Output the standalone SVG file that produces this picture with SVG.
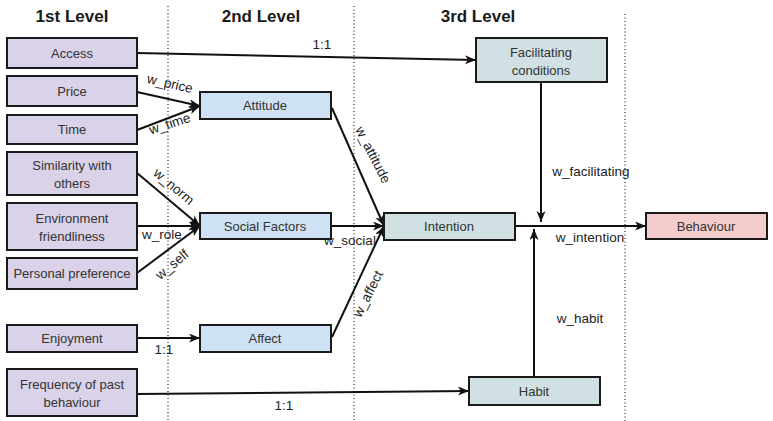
<svg xmlns="http://www.w3.org/2000/svg" width="773" height="421" viewBox="0 0 773 421">
  <style>
    .box { stroke: #1a1a1a; stroke-width: 2; }
    .l1 { fill: #d9d2e9; }
    .l2 { fill: #cfe2f3; }
    .l3 { fill: #d0e0e3; }
    .out { fill: #f4cccc; }
    .lbl { font-family: "Liberation Sans", Arial, sans-serif; font-size: 13px; fill: #333; text-anchor: middle; }
    .hdr { font-family: "Liberation Sans", Arial, sans-serif; font-size: 17px; font-weight: bold; fill: #1a1a1a; text-anchor: middle; }
    .w { font-family: "Liberation Sans", Arial, sans-serif; font-size: 13.5px; fill: #222; text-anchor: middle; }
    .conn { stroke: #111; stroke-width: 2; fill: none; }
    .sep { stroke: #555; stroke-width: 1.5; stroke-dasharray: 1 2.5; }
  </style>
  <defs>
    <marker id="arrow" markerWidth="12" markerHeight="10" refX="11" refY="4.5" orient="auto" markerUnits="userSpaceOnUse">
      <path d="M0,0 L11,4.5 L0,9 L3,4.5 z" fill="#111"/>
    </marker>
  </defs>
  <rect width="773" height="421" fill="#ffffff"/>

  <!-- level separators -->
  <g id="separators">
    <line class="sep" x1="168" y1="6" x2="168" y2="421"/>
    <line class="sep" x1="354" y1="6" x2="354" y2="421"/>
    <line class="sep" x1="625" y1="14" x2="625" y2="421"/>
  </g>

  <!-- headers -->
  <g id="headers">
    <text class="hdr" x="72" y="22">1st Level</text>
    <text class="hdr" x="261" y="22">2nd Level</text>
    <text class="hdr" x="478" y="22">3rd Level</text>
  </g>

  <!-- connectors -->
  <g id="connectors">
    <line class="conn" x1="137" y1="53" x2="476" y2="60" marker-end="url(#arrow)"/>
    <line class="conn" x1="137" y1="92" x2="200" y2="106" marker-end="url(#arrow)"/>
    <line class="conn" x1="137" y1="130" x2="200" y2="106" marker-end="url(#arrow)"/>
    <line class="conn" x1="137" y1="173" x2="200" y2="226" marker-end="url(#arrow)"/>
    <line class="conn" x1="137" y1="226" x2="200" y2="226" marker-end="url(#arrow)"/>
    <line class="conn" x1="137" y1="273" x2="200" y2="226" marker-end="url(#arrow)"/>
    <line class="conn" x1="137" y1="338" x2="200" y2="338" marker-end="url(#arrow)"/>
    <line class="conn" x1="332" y1="108" x2="384" y2="226" marker-end="url(#arrow)"/>
    <line class="conn" x1="331" y1="226" x2="384" y2="226" marker-end="url(#arrow)"/>
    <line class="conn" x1="332" y1="337" x2="384" y2="226" marker-end="url(#arrow)"/>
    <line class="conn" x1="137" y1="394" x2="469" y2="391" marker-end="url(#arrow)"/>
    <line class="conn" x1="515" y1="226" x2="646" y2="226" marker-end="url(#arrow)"/>
    <line class="conn" x1="541" y1="82" x2="541" y2="222" marker-end="url(#arrow)"/>
    <line class="conn" x1="534" y1="377" x2="534" y2="229" marker-end="url(#arrow)"/>

    <text class="w" x="322" y="49">1:1</text>
    <text class="w" transform="translate(169,88) rotate(13)">w_price</text>
    <text class="w" transform="translate(171,128) rotate(-18)">w_time</text>
    <text class="w" transform="translate(171,190) rotate(40)">w_norm</text>
    <text class="w" x="162" y="239">w_role</text>
    <text class="w" transform="translate(175,268) rotate(-40)">w_self</text>
    <text class="w" x="164" y="354">1:1</text>
    <text class="w" transform="translate(369,157) rotate(63)">w_attitude</text>
    <text class="w" x="350" y="245">w_social</text>
    <text class="w" transform="translate(372,296) rotate(-63)">w_affect</text>
    <text class="w" x="284" y="410">1:1</text>
    <text class="w" x="591" y="176">w_facilitating</text>
    <text class="w" x="590" y="242">w_intention</text>
    <text class="w" x="580" y="323">w_habit</text>
  </g>

  <!-- 1st level -->
  <g id="access">
    <rect class="box l1" x="7" y="38" width="130" height="30"/>
    <text class="lbl" x="72" y="58">Access</text>
  </g>
  <g id="price">
    <rect class="box l1" x="7" y="76" width="130" height="30"/>
    <text class="lbl" x="72" y="96">Price</text>
  </g>
  <g id="time">
    <rect class="box l1" x="7" y="115" width="130" height="29"/>
    <text class="lbl" x="72" y="134">Time</text>
  </g>
  <g id="similarity">
    <rect class="box l1" x="7" y="152" width="130" height="43"/>
    <text class="lbl" x="72" y="170">Similarity with</text>
    <text class="lbl" x="72" y="188">others</text>
  </g>
  <g id="environment">
    <rect class="box l1" x="7" y="203" width="130" height="47"/>
    <text class="lbl" x="72" y="223">Environment</text>
    <text class="lbl" x="72" y="241">friendliness</text>
  </g>
  <g id="personal">
    <rect class="box l1" x="7" y="258" width="130" height="31"/>
    <text class="lbl" x="72" y="278">Personal preference</text>
  </g>
  <g id="enjoyment">
    <rect class="box l1" x="7" y="325" width="130" height="27"/>
    <text class="lbl" x="72" y="343">Enjoyment</text>
  </g>
  <g id="frequency">
    <rect class="box l1" x="7" y="369" width="130" height="47"/>
    <text class="lbl" x="72" y="389">Frequency of past</text>
    <text class="lbl" x="72" y="407">behaviour</text>
  </g>

  <!-- 2nd level -->
  <g id="attitude">
    <rect class="box l2" x="200" y="92" width="131" height="27"/>
    <text class="lbl" x="265" y="110">Attitude</text>
  </g>
  <g id="social">
    <rect class="box l2" x="200" y="213" width="131" height="26"/>
    <text class="lbl" x="265" y="231">Social Factors</text>
  </g>
  <g id="affect">
    <rect class="box l2" x="200" y="325" width="131" height="27"/>
    <text class="lbl" x="265" y="343">Affect</text>
  </g>

  <!-- 3rd level -->
  <g id="facilitating">
    <rect class="box l3" x="476" y="38" width="131" height="44"/>
    <text class="lbl" x="541" y="57">Facilitating</text>
    <text class="lbl" x="541" y="75">conditions</text>
  </g>
  <g id="intention">
    <rect class="box l3" x="384" y="213" width="131" height="27"/>
    <text class="lbl" x="449" y="231">Intention</text>
  </g>
  <g id="habit">
    <rect class="box l3" x="469" y="377" width="131" height="28"/>
    <text class="lbl" x="534" y="396">Habit</text>
  </g>

  <!-- outcome -->
  <g id="behaviour">
    <rect class="box out" x="646" y="213" width="121" height="26"/>
    <text class="lbl" x="706" y="231">Behaviour</text>
  </g>
</svg>
